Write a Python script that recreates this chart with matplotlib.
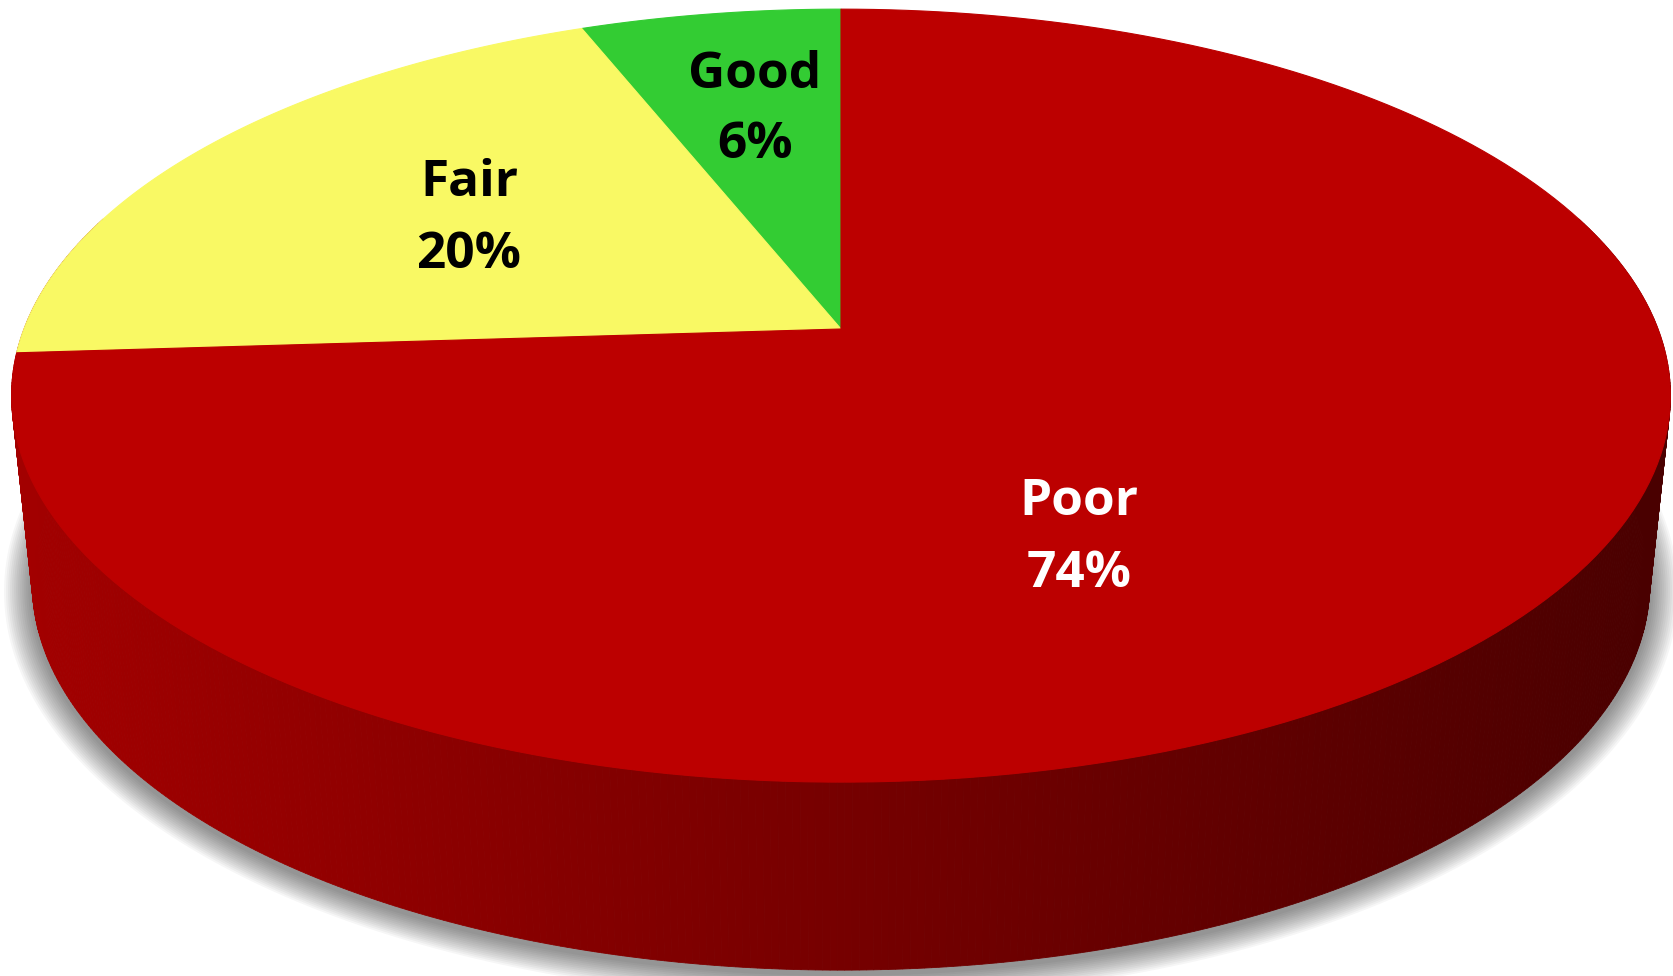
import numpy as np
import matplotlib.pyplot as plt
from matplotlib.patches import Polygon

plt.rcParams['font.family'] = ['Open Sans', 'DejaVu Sans']

# data
categories = ['Good', 'Fair', 'Poor']
shares = [6, 20, 74]
top_colors = ['#33CC33', '#F9F964', '#BC0000']
text_colors = ['black', 'black', 'white']
# label anchor (x, baseline of name, baseline of value) in pixels
label_pos = [(755, 88, 158), (469, 196, 268), (1079, 515, 587)]

# geometry of the tilted disc (pixels)
cx, cy = 841, 329
a, b, k = 817, 375, 0.1724
depth = 188
shrink = 0.975


def rim(theta, r=1.0, z=0.0, sx=1.0):
    u = r * np.cos(theta)
    v = r * np.sin(theta)
    x = cx + a * sx * u / (1 + k * v)
    y = cy - b * v / (1 + k * v) + z
    return x, y


fig = plt.figure(figsize=(16.73, 9.76), dpi=100)
ax = fig.add_axes([0, 0, 1, 1])
ax.set_xlim(0, 1673)
ax.set_ylim(976, 0)
ax.axis('off')

# soft shadow under the bottom
t = np.linspace(0, 2 * np.pi, 400)
for i in range(14, 0, -1):
    bx, by = rim(t, z=depth + 4, sx=shrink)
    sc = 1 + i * 0.0025
    bx = cx + (bx - cx) * sc
    by = (cy + depth) + (by - cy - depth) * (1 + i * 0.004)
    ax.add_patch(Polygon(np.column_stack([bx, by]), closed=True,
                         fc='#000000', ec='none', alpha=0.035, zorder=1))

# side wall, shaded from left to right
ts = np.linspace(np.pi * 0.9, np.pi * 2.1, 500)
cl = np.array([0xA3, 0, 0]) / 255
cr = np.array([0x4A, 0, 0]) / 255
for t0, t1 in zip(ts[:-1], ts[1:]):
    x0, y0 = rim(np.array([t0, t1]))
    x1, y1 = rim(np.array([t0, t1]), z=depth, sx=shrink)
    xm = (x0.mean() + x1.mean()) / 2
    f = np.clip((xm - 20) / 1630, 0, 1)
    col = cl * (1 - f) + cr * f
    pts = [(x0[0], y0[0]), (x0[1], y0[1]), (x1[1], y1[1]), (x1[0], y1[0])]
    ax.add_patch(Polygon(pts, closed=True, fc=col, ec=col, lw=0.6, zorder=2))

# top face wedges, starting at 12 o'clock and going counter-clockwise on screen
start = np.pi / 2
for cat, share, col in zip(categories, shares, top_colors):
    span = 2 * np.pi * share / 100
    th = np.linspace(start, start + span, 200)
    x, y = rim(th)
    pts = np.column_stack([np.r_[cx, x], np.r_[cy, y]])
    ax.add_patch(Polygon(pts, closed=True, fc=col, ec=col, lw=0.8, zorder=3))
    start += span

for cat, share, tc, (lx, ly1, ly2) in zip(categories, shares, text_colors, label_pos):
    ax.text(lx, ly1, cat, color=tc, fontsize=37, fontweight='bold',
            ha='center', va='baseline', zorder=5)
    ax.text(lx, ly2, f'{share}%', color=tc, fontsize=37, fontweight='bold',
            ha='center', va='baseline', zorder=5)

fig.savefig('out.png', dpi=100, facecolor='white')
